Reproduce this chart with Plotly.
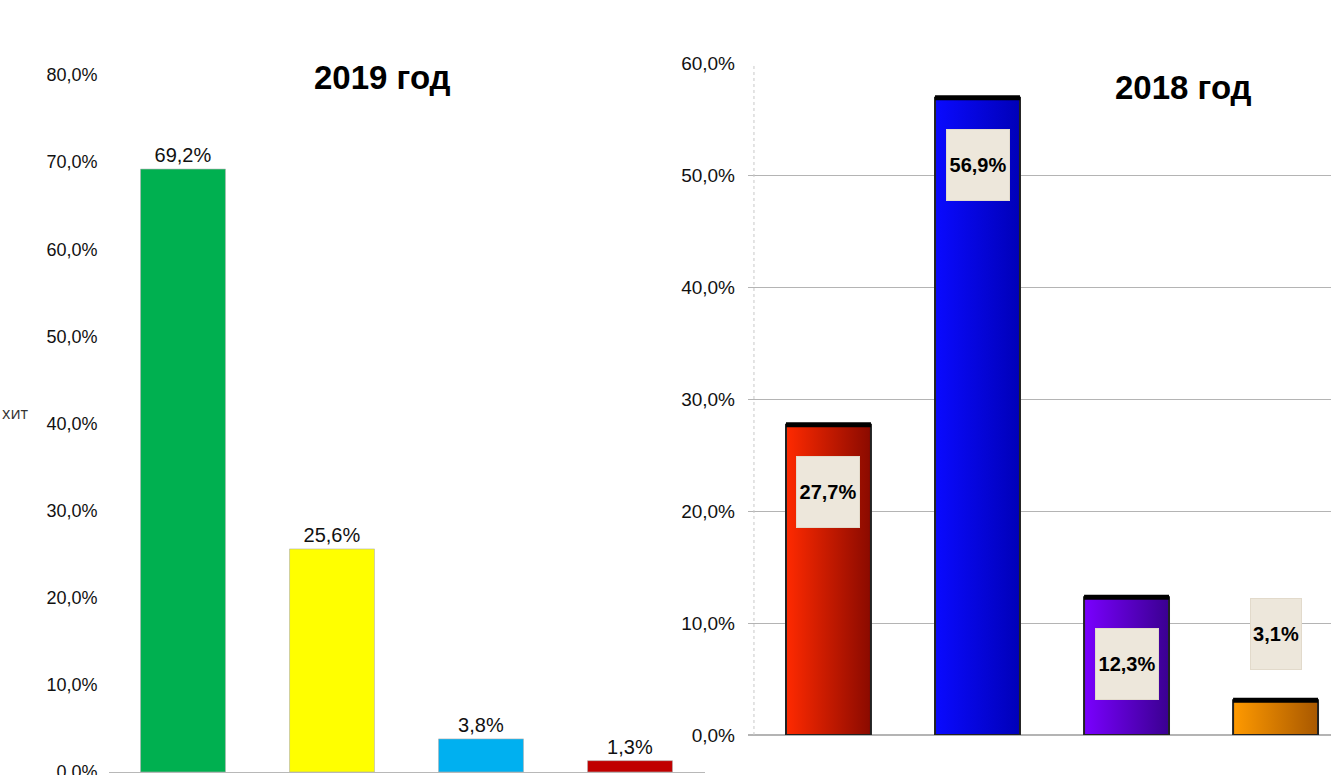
import plotly.graph_objects as go

# Shares by group, 2019 and 2018
values_2019 = [69.2, 25.6, 3.8, 1.3]
colors_2019 = ["#00b050", "#ffff00", "#00b0f0", "#c00000"]

values_2018 = [27.7, 56.9, 12.3, 3.1]
gradients_2018 = [
    ("#ff2a00", "#8a0a00"),
    ("#0a0aff", "#0000b8"),
    ("#7a00ff", "#3a0090"),
    ("#ff9a00", "#a85800"),
]

ticks_2019 = [0, 10, 20, 30, 40, 50, 60, 70, 80]
ticks_2018 = [0, 10, 20, 30, 40, 50, 60]

W, H = 1331, 775
SANS = "Liberation Sans, Arial, sans-serif"
BAR_W = 0.57


def pct(v):
    return f"{v:.1f}%".replace(".", ",")


fig = go.Figure()

# ---- 2019: plain bars with value labels above ----
fig.add_trace(go.Bar(
    x=list(range(len(values_2019))),
    y=values_2019,
    width=BAR_W,
    marker=dict(color=colors_2019, line=dict(color="#b0b0b0", width=0.6)),
    text=[pct(v) for v in values_2019],
    textposition="outside",
    textfont=dict(family=SANS, size=20, color="#111"),
    cliponaxis=False,
    xaxis="x", yaxis="y",
    showlegend=False,
))

# ---- 2018: gradient bars with a heavy top edge ----
for i, (v, (c0, c1)) in enumerate(zip(values_2018, gradients_2018)):
    x0, x1 = i - BAR_W / 2, i + BAR_W / 2
    fig.add_trace(go.Scatter(
        x=[x0, x1, x1, x0, x0],
        y=[0, 0, v, v, 0],
        mode="lines",
        fill="toself",
        fillgradient=dict(type="horizontal", colorscale=[[0, c0], [1, c1]]),
        line=dict(color="#222", width=2),
        xaxis="x2", yaxis="y2",
        showlegend=False,
        hoverinfo="skip",
    ))
    fig.add_trace(go.Scatter(
        x=[x0, x1], y=[v, v],
        mode="lines",
        line=dict(color="#000", width=5),
        xaxis="x2", yaxis="y2",
        showlegend=False,
        hoverinfo="skip",
    ))

annotations = []
for i, v in enumerate(values_2018):
    inside = v > 8
    annotations.append(dict(
        x=i, y=v, xref="x2", yref="y2",
        text=f"<b>{pct(v)}</b>",
        showarrow=False,
        xanchor="center",
        yanchor="top" if inside else "bottom",
        yshift=-31 if inside else 30,
        width=60 if inside else 48, height=68,
        bgcolor="#ede7db",
        bordercolor="#e2dacb", borderwidth=1,
        font=dict(family=SANS, size=20, color="#000"),
    ))

annotations += [
    dict(text="<b>2019 год</b>", x=382 / W, y=1 - 77 / H, xref="paper", yref="paper",
         xanchor="center", yanchor="middle",
         showarrow=False, font=dict(family=SANS, size=33, color="#000")),
    dict(text="<b>2018 год</b>", x=1183 / W, y=1 - 87 / H, xref="paper", yref="paper",
         xanchor="center", yanchor="middle",
         showarrow=False, font=dict(family=SANS, size=33, color="#000")),
    dict(text="хит", x=0, y=1 - 413 / H, xref="paper", yref="paper",
         xanchor="left", yanchor="middle",
         showarrow=False, font=dict(family="Open Sans, DejaVu Sans, sans-serif", size=16, color="#333")),
]

shapes = [
    dict(type="line", xref="x2", yref="y2 domain", x0=-0.5, x1=-0.5, y0=0, y1=1,
         line=dict(color="#c8c8c8", width=1, dash="dot")),
]

fig.update_layout(
    width=W, height=H,
    margin=dict(l=0, r=0, t=0, b=0, autoexpand=False),
    paper_bgcolor="white", plot_bgcolor="rgba(0,0,0,0)",
    annotations=annotations,
    shapes=shapes,
    xaxis=dict(domain=[108.5 / W, 704.5 / W], range=[-0.5, 3.5],
               showticklabels=False, showgrid=False, zeroline=False,
               showline=True, linecolor="#b8b8b8", linewidth=1, ticks="",
               anchor="y", automargin=False),
    yaxis=dict(domain=[3 / H, 700 / H], range=[0, 80],
               tickvals=ticks_2019, ticktext=[pct(t) for t in ticks_2019],
               showgrid=False, zeroline=False, showline=False, ticks="",
               ticklabelstandoff=10, automargin=False, ticklabeloverflow="allow",
               tickfont=dict(family=SANS, size=18, color="#111"), anchor="x"),
    xaxis2=dict(domain=[748 / W, 1.0], range=[-0.54, 3.372],
                showticklabels=False, showgrid=False, zeroline=False,
                showline=False, ticks="", anchor="y2", automargin=False),
    yaxis2=dict(domain=[40 / H, 712 / H], range=[0, 60],
                tickvals=ticks_2018, ticktext=[pct(t) for t in ticks_2018],
                showgrid=True, gridcolor="#b4b4b4", gridwidth=1,
                zeroline=True, zerolinecolor="#b4b4b4", showline=False, ticks="",
                ticklabelstandoff=12, automargin=False, ticklabeloverflow="allow",
                tickfont=dict(family=SANS, size=19, color="#111"), anchor="x2"),
)

fig.write_html("out.html")
